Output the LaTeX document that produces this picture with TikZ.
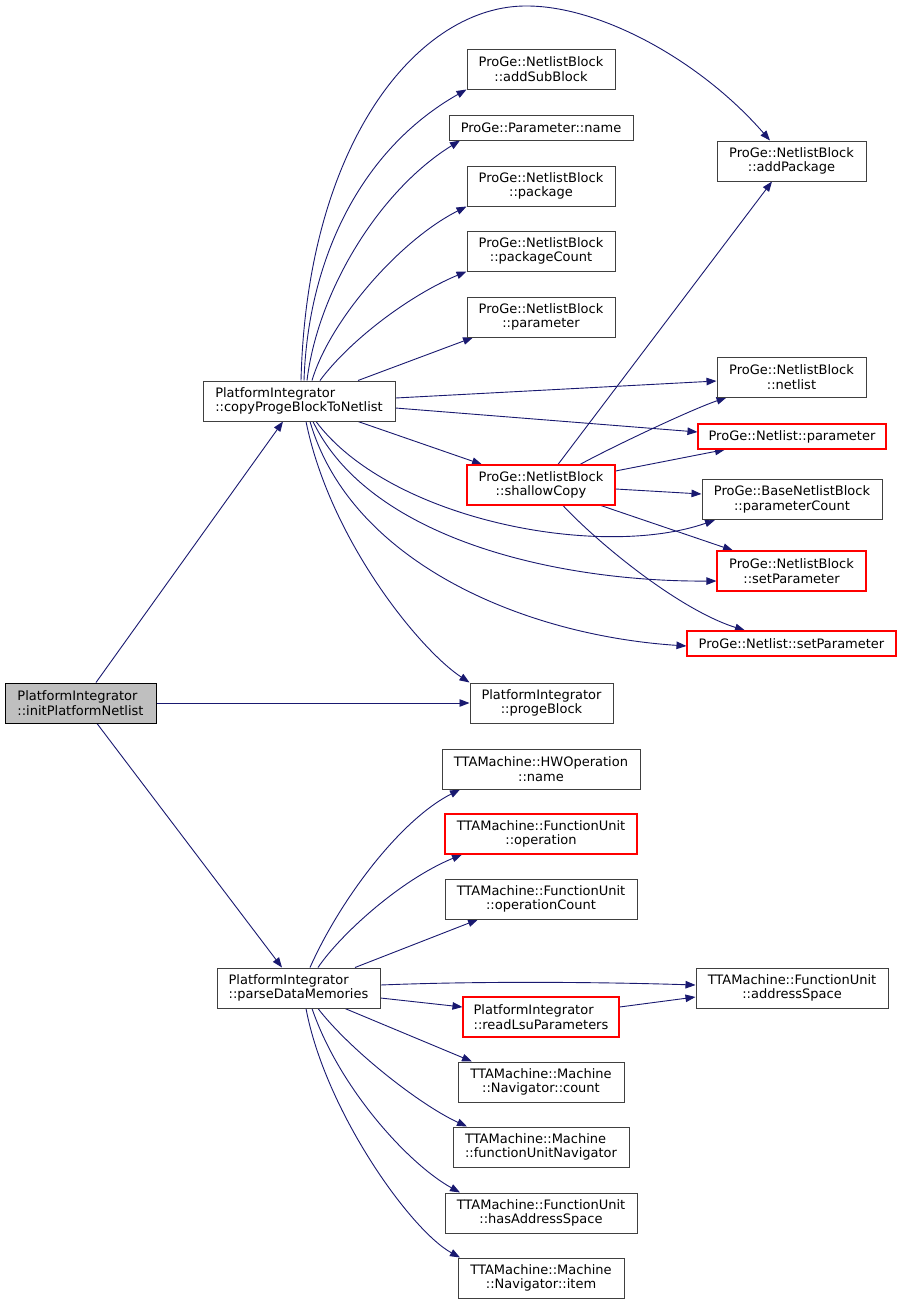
\documentclass[tikz,border=0pt]{standalone}
\usepackage{fontspec}
\setmainfont{DejaVu Sans}
\usetikzlibrary{arrows.meta}
\definecolor{edgeblue}{HTML}{191970}
\definecolor{boxgray}{HTML}{404040}
\definecolor{boxred}{RGB}{255,0,0}
\definecolor{initfill}{HTML}{BFBFBF}
\pgfdeclarelayer{bg}
\pgfdeclarelayer{edges}
\pgfsetlayers{bg,edges,main}
\begin{document}
\begin{tikzpicture}[x=1pt,y=-1pt,
  basebox/.style={fill=white, line width=1pt, inner sep=0pt, text=black,
    font=\fontsize{13}{14.7}\selectfont},
  box/.style={basebox, draw=boxgray, align=center},
  lbox/.style={basebox, draw=boxgray, align=left},
  redbox/.style={basebox, draw=boxred, line width=1.1pt, align=center},
  lredbox/.style={basebox, draw=boxred, line width=1.1pt, align=left},
  e/.style={draw=edgeblue, line width=0.9pt, -{Triangle[length=10pt,width=7.5pt]}}]
\begin{pgfonlayer}{bg}
\fill[white] (0,0) rectangle (901,1304);
\end{pgfonlayer}
\useasboundingbox (0,0) rectangle (901,1304);

% nodes
\node[lbox, fill=initfill, draw=black, minimum width=151pt, minimum height=40pt] (init) at (80.5,703) {PlatformIntegrator\\::initPlatformNetlist};
\node[lbox, minimum width=192pt, minimum height=40pt] (copy) at (299,401) {PlatformIntegrator\\::copyProgeBlockToNetlist};
\node[lbox, minimum width=163pt, minimum height=40pt] (parse) at (298.5,988) {PlatformIntegrator\\::parseDataMemories};

\node[box, minimum width=148pt, minimum height=40pt] (addSub) at (541,69) {ProGe::NetlistBlock\\::addSubBlock};
\node[box, minimum width=184pt, minimum height=25pt] (pname) at (541,127.5) {ProGe::Parameter::name};
\node[box, minimum width=148pt, minimum height=40pt] (package) at (541,186) {ProGe::NetlistBlock\\::package};
\node[box, minimum width=148pt, minimum height=40pt] (pkgCount) at (541,251) {ProGe::NetlistBlock\\::packageCount};
\node[box, minimum width=148pt, minimum height=40pt] (parameter) at (541,317) {ProGe::NetlistBlock\\::parameter};
\node[box, minimum width=149pt, minimum height=40pt] (addPackage) at (791.5,161) {ProGe::NetlistBlock\\::addPackage};
\node[box, minimum width=149pt, minimum height=40pt] (netlist) at (791.5,377) {ProGe::NetlistBlock\\::netlist};
\node[redbox, minimum width=188pt, minimum height=25pt] (nlparam) at (792,436.5) {ProGe::Netlist::parameter};
\node[redbox, minimum width=148pt, minimum height=40pt] (shallow) at (541,485) {ProGe::NetlistBlock\\::shallowCopy};
\node[box, minimum width=180pt, minimum height=40pt] (paramCount) at (792,499.5) {ProGe::BaseNetlistBlock\\::parameterCount};
\node[redbox, minimum width=149pt, minimum height=40pt] (nbSetParam) at (791.5,571) {ProGe::NetlistBlock\\::setParameter};
\node[redbox, minimum width=209pt, minimum height=25pt] (nlSetParam) at (791.5,643.5) {ProGe::Netlist::setParameter};
\node[box, minimum width=143pt, minimum height=40pt] (progeBlock) at (541.5,703) {PlatformIntegrator\\::progeBlock};

\node[box, minimum width=198pt, minimum height=40pt] (hwName) at (541,769) {TTAMachine::HWOperation\\::name};
\node[redbox, minimum width=192pt, minimum height=40pt] (fuOp) at (541,834) {TTAMachine::FunctionUnit\\::operation};
\node[box, minimum width=192pt, minimum height=40pt] (opCount) at (541,899) {TTAMachine::FunctionUnit\\::operationCount};
\node[lredbox, minimum width=156pt, minimum height=40pt] (readLsu) at (541,1017) {PlatformIntegrator\\::readLsuParameters};
\node[box, minimum width=192pt, minimum height=40pt] (addrSpace) at (792,988) {TTAMachine::FunctionUnit\\::addressSpace};
\node[box, minimum width=166pt, minimum height=40pt] (navCount) at (541,1082) {TTAMachine::Machine\\::Navigator::count};
\node[lbox, minimum width=176pt, minimum height=40pt] (fuNav) at (541,1147) {TTAMachine::Machine\\::functionUnitNavigator};
\node[box, minimum width=192pt, minimum height=40pt] (hasAS) at (541,1213) {TTAMachine::FunctionUnit\\::hasAddressSpace};
\node[box, minimum width=166pt, minimum height=40pt] (navItem) at (541,1278) {TTAMachine::Machine\\::Navigator::item};

\begin{pgfonlayer}{edges}
% edges from init
\draw[e] ([xshift=15.5pt]init.north) -- ([xshift=-16pt]copy.south);
\draw[e] (init.east) -- (progeBlock.west);
\draw[e] ([xshift=16.5pt]init.south) -- ([xshift=-16.5pt]parse.north);

% edges from copy
\draw[e] ([xshift=2pt]copy.north) .. controls (307,140) and (420,5) .. (527,6)
   .. controls (600,6) and (700,60) .. ([xshift=-21.5pt]addPackage.north);
\draw[e] ([xshift=5pt]copy.north) .. controls (308,260) and (360,150) .. (addSub.south west);
\draw[e] ([xshift=8pt]copy.north) .. controls (318,290) and (380,190) .. ([xshift=-81pt]pname.south);
\draw[e] ([xshift=13pt]copy.north) .. controls (330,320) and (400,240) .. (package.south west);
\draw[e] ([xshift=21pt]copy.north) .. controls (350,340) and (410,295) .. (pkgCount.south west);
\draw[e] ([xshift=59pt]copy.north) -- ([xshift=-68pt]parameter.south);
\draw[e] ([yshift=3pt]copy.east) -- ([yshift=-4pt]netlist.west);
\draw[e] ([yshift=-7pt]copy.east) -- ([yshift=4.5pt]nlparam.west);
\draw[e] ([xshift=59pt]copy.south) -- ([xshift=-59pt]shallow.north);
\draw[e] ([xshift=17pt]copy.south) .. controls (390,520) and (600,560) .. ([xshift=-77pt]paramCount.south);
\draw[e] ([xshift=14pt]copy.south) .. controls (370,540) and (560,582) .. ([yshift=-10pt]nbSetParam.west);
\draw[e] ([xshift=11pt]copy.south) .. controls (350,560) and (520,635) .. ([yshift=-2.5pt]nlSetParam.west);
\draw[e] ([xshift=7pt]copy.south) .. controls (330,540) and (420,650) .. (progeBlock.north west);

% edges from shallowCopy
\draw[e] ([xshift=17pt]shallow.north) -- ([xshift=-19.5pt]addPackage.south);
\draw[e] ([xshift=39pt]shallow.north) .. controls (610,448) and (690,410) .. ([xshift=-65pt]netlist.south);
\draw[e] ([yshift=14pt]shallow.east) -- ([xshift=-67pt]nlparam.south);
\draw[e] ([yshift=-4pt]shallow.east) -- ([yshift=5.5pt]paramCount.west);
\draw[e] ([xshift=60pt]shallow.south) -- ([xshift=-58.5pt]nbSetParam.north);
\draw[e] ([xshift=22pt]shallow.south) .. controls (600,545) and (680,610) .. ([xshift=-46.5pt]nlSetParam.north);

% edges from parseDataMemories
\draw[e] ([xshift=11.5pt]parse.north) .. controls (340,900) and (400,820) .. ([xshift=-81pt]hwName.south);
\draw[e] ([xshift=19.5pt]parse.north) .. controls (340,935) and (400,880) .. ([xshift=-79pt]fuOp.south);
\draw[e] ([xshift=56.5pt]parse.north) -- ([xshift=-63pt]opCount.south);
\draw[e] ([yshift=3pt]parse.east) .. controls (480,981) and (600,982) .. ([yshift=3pt]addrSpace.west);
\draw[e] ([yshift=-10pt]parse.east) -- ([yshift=10pt]readLsu.west);
\draw[e] ([yshift=10pt]readLsu.east) -- ([yshift=-9pt]addrSpace.west);
\draw[e] ([xshift=46.5pt]parse.south) -- ([xshift=-69pt]navCount.north);
\draw[e] ([xshift=19.5pt]parse.south) .. controls (350,1050) and (420,1105) .. ([xshift=-74pt]fuNav.north);
\draw[e] ([xshift=13.5pt]parse.south) .. controls (340,1090) and (410,1165) .. ([xshift=-81pt]hasAS.north);
\draw[e] ([xshift=7.5pt]parse.south) .. controls (325,1110) and (410,1230) .. ([xshift=-81pt]navItem.north);
\end{pgfonlayer}
\end{tikzpicture}
\end{document}
